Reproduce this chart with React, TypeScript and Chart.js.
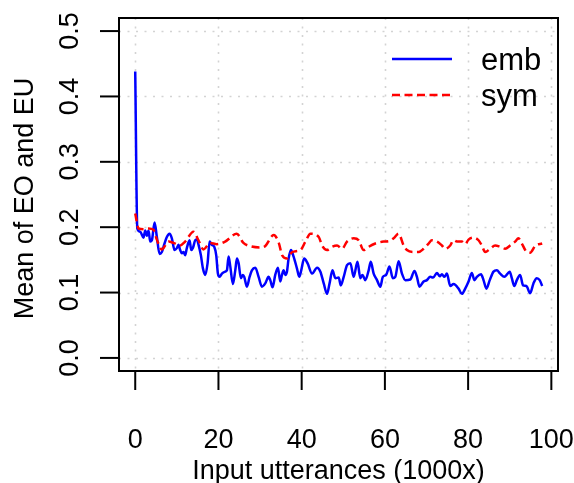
import React, { useEffect, useRef } from "react";
import { Chart, registerables } from "chart.js";

Chart.register(...registerables);

const FONT = '"Liberation Sans", Arial, Helvetica, sans-serif';

const xTicks = [0, 20, 40, 60, 80, 100];
const xTickLabels = ["0", "20", "40", "60", "80", "100"];
const yTicks = [0, 0.1, 0.2, 0.3, 0.4, 0.5];
const yTickLabels = ["0.0", "0.1", "0.2", "0.3", "0.4", "0.5"];
const xTitle = "Input utterances (1000x)";
const yTitle = "Mean of EO and EU";
const seriesNames = ["emb", "sym"];

const embX = [
  0, 0.5, 1.2, 2.0, 2.4, 2.8, 3.2, 3.6, 4.0, 4.65,
  5.2, 5.85, 6.4, 6.8, 7.6, 8.25, 8.8, 9.45, 10.0, 10.4,
  10.8, 11.2, 11.6, 12.0, 12.4, 13.06, 13.46, 13.86, 14.42, 14.82,
  15.22, 15.78, 16.27, 16.83, 17.39, 17.87, 18.43, 18.99, 19.47, 19.87,
  20.27, 20.83, 21.63, 22.03, 22.44, 22.84, 23.48, 24.04, 24.44, 24.84,
  25.4, 25.88, 26.2, 26.84, 27.48, 28.04, 28.85, 29.65, 30.45, 31.25,
  32.05, 32.45, 33.01, 33.65, 34.29, 34.86, 35.26, 35.66, 36.06, 36.46,
  36.86, 37.42, 38.06, 38.86, 39.42, 39.82, 40.6, 41.4, 42.5, 43.7,
  44.5, 45.3, 46.1, 46.7, 47.4, 48.1, 48.9, 49.4, 50.1, 50.9,
  51.7, 52.5, 53.4, 54.1, 54.6, 55.3, 56.1, 56.6, 57.3, 58.1,
  58.9, 59.5, 60.3, 61.1, 61.9, 62.5, 63.3, 64.1, 64.9, 66.1,
  67.1, 67.7, 68.3, 69.3, 70.1, 70.9, 71.6, 72.5, 73.2, 73.7,
  74.3, 74.9, 75.7, 76.5, 77.7, 78.5, 79.3, 80.1, 80.9, 81.5,
  82.1, 83.1, 83.7, 84.4, 85.2, 86.1, 86.9, 87.7, 88.7, 89.5,
  90.0, 90.5, 91.1, 91.7, 92.5, 93.2, 94.0, 94.9, 95.7, 96.5,
  97.2, 97.8,
];
const embY = [
  0.438, 0.198, 0.193, 0.184, 0.195, 0.187, 0.195, 0.178, 0.18, 0.207,
  0.185, 0.159, 0.162, 0.17, 0.185, 0.19, 0.183, 0.165, 0.168, 0.173,
  0.165, 0.16, 0.162, 0.157, 0.168, 0.18, 0.165, 0.168, 0.18, 0.181,
  0.173, 0.157, 0.137, 0.127, 0.145, 0.178, 0.173, 0.17, 0.157, 0.129,
  0.124, 0.129, 0.132, 0.134, 0.155, 0.14, 0.113, 0.134, 0.152, 0.145,
  0.122, 0.127, 0.124, 0.109, 0.124, 0.134, 0.138, 0.124, 0.109, 0.114,
  0.124, 0.119, 0.108, 0.127, 0.138, 0.117, 0.127, 0.134, 0.127, 0.132,
  0.152, 0.165, 0.155, 0.137, 0.124, 0.132, 0.152, 0.145, 0.129, 0.138,
  0.132, 0.114, 0.098, 0.114, 0.134, 0.122, 0.123, 0.111, 0.124, 0.142,
  0.145, 0.124, 0.147, 0.122, 0.127, 0.119, 0.134, 0.147, 0.129, 0.119,
  0.109, 0.124, 0.127, 0.14, 0.122, 0.124, 0.148, 0.129, 0.119, 0.12,
  0.133, 0.124, 0.109, 0.117, 0.119, 0.124, 0.123, 0.13, 0.125, 0.128,
  0.124, 0.129, 0.11, 0.113, 0.106, 0.098, 0.106, 0.117, 0.13, 0.119,
  0.124, 0.128, 0.119, 0.106, 0.119, 0.132, 0.134, 0.129, 0.124, 0.129,
  0.132, 0.122, 0.11, 0.119, 0.127, 0.111, 0.11, 0.099, 0.114, 0.122,
  0.119, 0.11,
];

const symX = [
  0, 0.8, 2.0, 3.2, 4.4, 5.2, 6.4, 8.0, 9.2, 10.8,
  12.0, 14.0, 15.2, 16.4, 18.0, 19.6, 21.6, 24.4, 26.0, 27.6,
  30.0, 31.2, 33.3, 34.5, 35.3, 36.5, 37.7, 39.7, 40.9, 42.1,
  44.1, 44.9, 46.1, 47.3, 48.5, 49.7, 50.9, 52.5, 53.7, 54.9,
  56.1, 57.7, 59.7, 61.1, 62.1, 63.3, 64.5, 65.3, 66.9, 68.1,
  69.3, 70.5, 71.3, 72.5, 73.7, 74.5, 75.7, 76.5, 77.3, 78.5,
  79.3, 80.1, 81.3, 82.5, 83.3, 84.1, 85.3, 86.5, 87.7, 88.9,
  90.1, 91.3, 92.1, 92.9, 94.1, 94.9, 96.2, 97.8,
];
const symY = [
  0.221, 0.198, 0.197, 0.198, 0.196, 0.181, 0.166, 0.178, 0.176, 0.172,
  0.178, 0.193, 0.18, 0.166, 0.176, 0.174, 0.178, 0.19, 0.176, 0.171,
  0.169, 0.171, 0.188, 0.176, 0.157, 0.152, 0.162, 0.165, 0.178, 0.19,
  0.185, 0.172, 0.165, 0.17, 0.172, 0.167, 0.178, 0.183, 0.18, 0.165,
  0.17, 0.175, 0.178, 0.179, 0.183, 0.19, 0.172, 0.165, 0.162, 0.162,
  0.167, 0.175, 0.18, 0.178, 0.172, 0.167, 0.172, 0.18, 0.178, 0.178,
  0.174, 0.181, 0.184, 0.18, 0.172, 0.162, 0.167, 0.172, 0.17, 0.167,
  0.172, 0.178, 0.183, 0.175, 0.162, 0.161, 0.172, 0.175,
];

const seriesColors = ["#0000ff", "#ff0000"];

function pairs(xs: number[], ys: number[]) {
  const n = Math.min(xs.length, ys.length);
  const out: { x: number; y: number }[] = [];
  for (let i = 0; i < n; i++) out.push({ x: xs[i], y: ys[i] });
  return out;
}

export default function App() {
  const ref = useRef<HTMLCanvasElement>(null);

  useEffect(() => {
    const canvas = ref.current;
    if (!canvas) return;

    const framePlugin = {
      id: "rFrame",
      beforeDatasetsDraw(chart: any) {
        const { ctx, chartArea: a, scales } = chart;
        const xs = scales.x;
        const ys = scales.y;
        ctx.save();
        ctx.strokeStyle = "#d3d3d3";
        ctx.lineWidth = 1.6;
        ctx.setLineDash([2, 6.5]);
        for (const v of xTicks) {
          const px = Math.round(xs.getPixelForValue(v)) + 0.5;
          ctx.beginPath();
          ctx.moveTo(px, a.top);
          ctx.lineTo(px, a.bottom);
          ctx.stroke();
        }
        for (const v of yTicks) {
          const py = Math.round(ys.getPixelForValue(v)) + 0.5;
          ctx.beginPath();
          ctx.moveTo(a.left, py);
          ctx.lineTo(a.right, py);
          ctx.stroke();
        }
        ctx.restore();
      },
      afterDraw(chart: any) {
        const { ctx, chartArea: a, scales } = chart;
        const xs = scales.x;
        const ys = scales.y;
        ctx.save();
        ctx.setLineDash([]);
        ctx.strokeStyle = "#000";
        ctx.lineWidth = 2;
        ctx.strokeRect(a.left, a.top, a.right - a.left, a.bottom - a.top);

        const tick = 19;
        ctx.lineWidth = 2;
        for (const v of xTicks) {
          const px = xs.getPixelForValue(v);
          ctx.beginPath();
          ctx.moveTo(px, a.bottom);
          ctx.lineTo(px, a.bottom + tick);
          ctx.stroke();
        }
        for (const v of yTicks) {
          const py = ys.getPixelForValue(v);
          ctx.beginPath();
          ctx.moveTo(a.left - tick, py);
          ctx.lineTo(a.left, py);
          ctx.stroke();
        }

        ctx.fillStyle = "#000";
        ctx.font = `27px ${FONT}`;
        ctx.textAlign = "center";
        ctx.textBaseline = "alphabetic";
        xTicks.forEach((v, i) => {
          ctx.fillText(xTickLabels[i], xs.getPixelForValue(v), a.bottom + 77);
        });
        ctx.fillText(xTitle, (a.left + a.right) / 2, a.bottom + 108);

        yTicks.forEach((v, i) => {
          ctx.save();
          ctx.translate(a.left - 41, ys.getPixelForValue(v));
          ctx.rotate(-Math.PI / 2);
          ctx.fillText(yTickLabels[i], 0, 0);
          ctx.restore();
        });
        ctx.save();
        ctx.translate(a.left - 86, (a.top + a.bottom) / 2 + 4);
        ctx.rotate(-Math.PI / 2);
        ctx.fillText(yTitle, 0, 0);
        ctx.restore();

        // legend (no box), top-right
        const lx0 = a.right - 166;
        const lx1 = a.right - 106;
        const tx = a.right - 77;
        const rows = [a.top + 41, a.top + 77];
        const dashes = [[], [8, 4.5]];
        ctx.textAlign = "left";
        ctx.font = `31px ${FONT}`;
        seriesNames.forEach((name, i) => {
          const ly = rows[i];
          ctx.strokeStyle = seriesColors[i];
          ctx.lineWidth = 2.5;
          ctx.setLineDash(dashes[i]);
          ctx.beginPath();
          ctx.moveTo(lx0, ly);
          ctx.lineTo(lx1, ly);
          ctx.stroke();
          ctx.setLineDash([]);
          ctx.fillStyle = "#000";
          ctx.fillText(name, tx, ly + 11);
        });
        ctx.restore();
      },
    };

    const chart = new Chart(canvas, {
      type: "line",
      data: {
        datasets: [
          {
            label: seriesNames[0],
            data: pairs(embX, embY),
            borderColor: seriesColors[0],
            borderWidth: 2.5,
            pointRadius: 0,
            fill: false,
            cubicInterpolationMode: "monotone",
            order: 1,
          },
          {
            label: seriesNames[1],
            data: pairs(symX, symY),
            borderColor: seriesColors[1],
            borderWidth: 2.5,
            borderDash: [8, 4.5],
            pointRadius: 0,
            fill: false,
            cubicInterpolationMode: "monotone",
            order: 0,
          },
        ],
      },
      options: {
        responsive: false,
        animation: false,
        devicePixelRatio: 1,
        layout: { padding: { left: 119, top: 18, right: 16, bottom: 112 } },
        plugins: { legend: { display: false }, tooltip: { enabled: false } },
        scales: {
          x: { type: "linear", min: -3.9, max: 101.6, display: false },
          y: { type: "linear", min: -0.02, max: 0.52, display: false },
        },
      },
      plugins: [framePlugin],
    });

    return () => chart.destroy();
  }, []);

  return (
    <div style={{ position: "fixed", left: 0, top: 0, width: 574, height: 483, background: "#fff" }}>
      <canvas ref={ref} width={574} height={483} style={{ display: "block" }} />
    </div>
  );
}
